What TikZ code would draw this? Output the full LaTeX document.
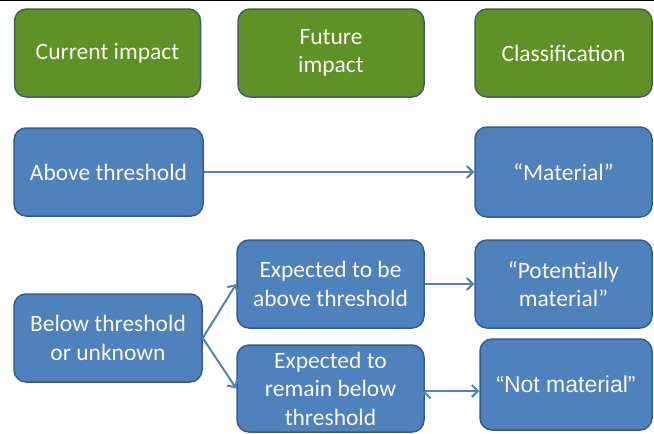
\documentclass[tikz,border=0pt]{standalone}
\usepackage{fontspec}
\setmainfont{Carlito}
\newfontfamily\arialfont{Liberation Sans}
\usetikzlibrary{arrows.meta}
\definecolor{impactgreen}{RGB}{95,145,38}
\definecolor{greenline}{RGB}{68,94,92}
\definecolor{stepblue}{RGB}{79,129,189}
\definecolor{blueline}{RGB}{54,92,140}
\definecolor{boxtext}{RGB}{248,248,238}

\begin{document}
\begin{tikzpicture}[x=1pt,y=-1pt]
\tikzset{head/.style = {shape=rectangle,rounded corners=12pt,draw=greenline,fill=impactgreen,line width=1.5pt,text=boxtext,align=center,minimum width=186pt,minimum height=88pt,font=\fontsize{23.5}{28.5}\selectfont}}
\tikzset{state/.style = {head,draw=blueline,fill=stepblue}}
\tikzset{edge/.style = {->,> = {Straight Barb[length=6pt,width=12pt]},draw=stepblue,line width=2pt}}
\useasboundingbox (0,0) rectangle (654,434);
\draw[line width=1pt] (0,0.5) -- (654,0.5);
%\draw[line width=3pt] (0,1.5) -- (12,1.5);
\node[head] (cur) at (107.5,53) {Current impact};
\node[head] (fut) at (331,53) {Future\\impact};
\node[head,minimum width=177pt] (cls) at (563.5,53) {Classification};
\node[state,minimum width=189pt] (above) at (108.5,172) {Above threshold};
\node[state,minimum width=177pt,minimum height=90pt] (mat) at (563.5,172) {“Material”};
\node[state,minimum width=188pt] (below) at (108,338) {Below threshold\\or unknown};
\node[state,minimum width=187pt] (exab) at (330.5,284) {Expected to be\\above threshold};
\node[state,minimum width=177pt] (pot) at (563.5,284) {“Potentially\\material”};
\node[state,minimum width=187pt,minimum height=87pt] (exrem) at (330.5,388.5) {Expected to\\remain below\\threshold};
\node[state,minimum width=172pt,minimum height=91pt,font=\arialfont\fontsize{23}{27}\selectfont] (notm) at (566,384.5) {“Not material”};
\path[edge]
(above) edge (mat)
(below.east) edge (exab.west)
(below.east) edge (exrem.west)
(exab) edge (pot)
(exrem.east |- 0,391) edge (notm.west |- 0,391);
\end{tikzpicture}
\end{document}
